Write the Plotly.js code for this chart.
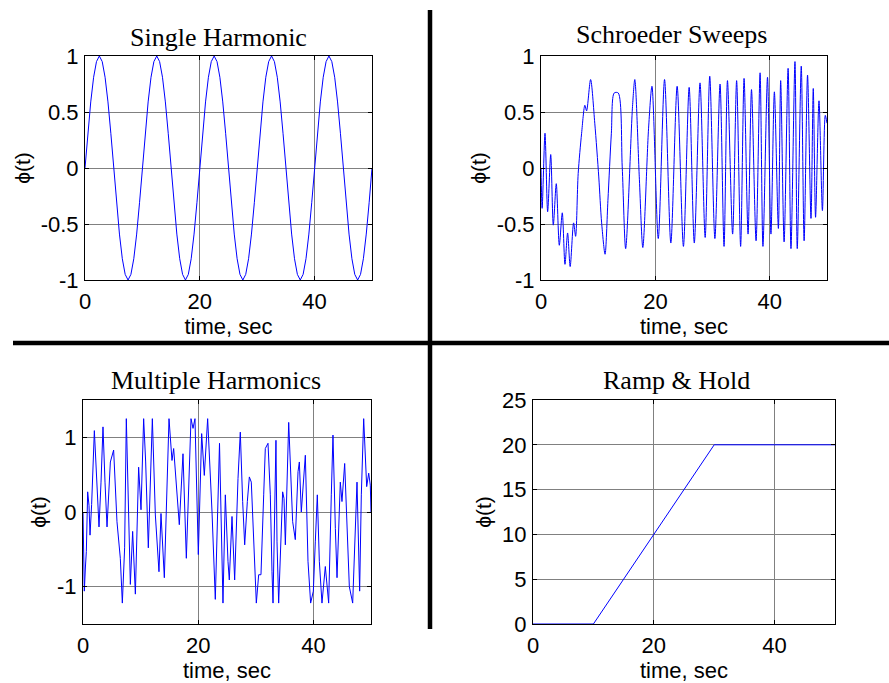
<!DOCTYPE html>
<html>
<head>
<meta charset="utf-8">
<script src="https://cdn.plot.ly/plotly-3.0.1.min.js"></script>
<style>html,body{margin:0;padding:0;background:#fff;} #chart{width:889px;height:683px;}</style>
</head>
<body>
<div id="chart"></div>
<script>
// ---------- data ----------
const panelTitles = ["Single Harmonic", "Schroeder Sweeps", "Multiple Harmonics", "Ramp & Hold"];
const xTitle = "time, sec";
const yTitle = "\u03D5(t)";

const xTickVals = [0, 20, 40];
const xTickText = ["0", "20", "40"];
const yTickValsUnit = [-1, -0.5, 0, 0.5, 1];
const yTickTextUnit = ["-1", "-0.5", "0", "0.5", "1"];
const yTickValsMulti = [-1, 0, 1];
const yTickTextMulti = ["-1", "0", "1"];
const yTickValsRamp = [0, 5, 10, 15, 20, 25];
const yTickTextRamp = ["0", "5", "10", "15", "20", "25"];

// Single harmonic: samples every 0.5 s from t = 0 to 50
const sineStart = 0;
const sineStep = 0.5;
const sineValues = [
  0, 0.31, 0.59, 0.81, 0.95, 1, 0.95, 0.81, 0.59, 0.31, 0, -0.31, -0.59, -0.81, -0.95, -1, -0.95, -0.81, -0.59, -0.31,
  0, 0.31, 0.59, 0.81, 0.95, 1, 0.95, 0.81, 0.59, 0.31, 0, -0.31, -0.59, -0.81, -0.95, -1, -0.95, -0.81, -0.59, -0.31,
  0, 0.31, 0.59, 0.81, 0.95, 1, 0.95, 0.81, 0.59, 0.31, 0, -0.31, -0.59, -0.81, -0.95, -1, -0.95, -0.81, -0.59, -0.31,
  0, 0.31, 0.59, 0.81, 0.95, 1, 0.95, 0.81, 0.59, 0.31, 0, -0.31, -0.59, -0.81, -0.95, -1, -0.95, -0.81, -0.59, -0.31,
  0, 0.31, 0.59, 0.81, 0.95, 1, 0.95, 0.81, 0.59, 0.31, 0, -0.31, -0.59, -0.81, -0.95, -1, -0.95, -0.81, -0.59, -0.31,
  0
];

// Schroeder sweeps
const schroederT = [
  0, 0.2, 0.7, 1.16, 1.7, 2.15, 2.67, 3.2, 3.72, 4.19, 4.65, 5.1, 5.7, 6.05, 6.5, 7.1, 7.67, 7.97, 8.67,
  9.4, 10.1, 10.6, 11.2, 11.7, 12.3, 12.8, 13.5, 14.2, 14.8, 16.0, 16.4, 17.2, 17.8, 18.8, 19.4, 20.5,
  21.6, 22.7, 23.8, 24.9, 25.9, 26.8, 27.8, 28.7, 29.5, 30.4, 31.3, 32.0, 32.6, 33.5, 34.2, 34.9, 35.5,
  36.2, 36.8, 37.6, 38.3, 38.8, 39.6, 40.2, 40.8, 41.5, 41.9, 42.5, 43.2, 43.7, 44.4, 44.8, 45.5, 46.0,
  46.6, 47.2, 47.6, 48.0, 48.6, 49.2, 49.7, 50
];
const schroederV = [
  0, -0.36, 0.31, -0.39, 0.12, -0.51, -0.14, -0.69, -0.4, -0.86, -0.58, -0.88, -0.49, -0.61, -0.05, 0.31, 0.56, 0.51, 0.79,
  0.4, -0.08, -0.49, -0.77, -0.29, 0.31, 0.67, 0.67, 0.01, -0.72, 0.55, 0.79, -0.1, -0.71, 0.35, 0.73, -0.63,
  0.79, -0.67, 0.73, -0.7, 0.72, -0.67, 0.76, -0.62, 0.82, -0.63, 0.75, -0.7, 0.78, -0.59, 0.78, -0.7, 0.8,
  -0.59, 0.7, -0.65, 0.85, -0.7, 0.81, -0.59, 0.68, -0.54, 0.78, -0.66, 0.89, -0.72, 0.95, -0.72, 0.91, -0.65,
  0.83, -0.45, 0.71, -0.44, 0.6, -0.38, 0.47, 0.4
];

// Multiple harmonics
const multiT = [
  0, 0.23, 0.41, 0.58, 0.81, 1.04, 1.22, 1.5, 1.97, 2.2, 2.78, 3.13, 3.47, 3.82, 4.17, 4.75, 5.32, 5.9, 6.48,
  6.83, 7.23, 7.52, 7.87, 8.22, 8.62, 9.09, 9.66, 10.07, 10.53, 10.88, 11.34, 12.04, 12.56, 13.19, 13.54,
  14.12, 14.93, 15.45, 15.74, 16.72, 17.36, 17.94, 18.75, 19.1, 19.44, 20.02, 20.6, 21.06, 21.64, 22.4,
  22.97, 23.7, 24.3, 24.71, 25.17, 25.4, 25.87, 26.33, 26.91, 27.31, 27.72, 28.07, 28.53, 28.88, 29.22,
  29.63, 30.09, 30.5, 30.9, 31.37, 31.65, 32.12, 32.52, 32.81, 32.99, 33.5, 33.68, 33.97, 34.66, 34.9,
  35.13, 35.71, 36.05, 36.4, 36.86, 37.33, 37.56, 37.9, 38.6, 39.06, 39.52, 39.99, 40.33, 40.68, 41.03,
  41.49, 42.07, 42.36, 42.65, 43.11, 43.4, 43.81, 44.1, 44.67, 44.96, 45.43, 45.83, 46.24, 46.82, 47.57,
  48.03, 48.32, 48.73, 49.01, 49.25, 49.6, 49.88, 50
];
const multiV = [
  0, -1.06, -0.75, -0.53, 0.27, 0.09, -0.31, 0.1, 1.09, 0.74, -0.2, 0.4, 1.14, 0.4, -0.2, 0.67, 0.83, -0.13, -0.62,
  -1.22, -0.48, 1.25, -0.08, -0.97, -0.26, -1.1, 0.6, 0.03, 1.25, 0.67, -0.48, 1.25, -0.04, -0.8, -0.02,
  -0.88, 1.25, 0.69, 0.85, -0.17, 0.78, -0.62, 1.25, 1.12, 1.25, -0.57, 1.05, 0.49, 1.25, 0.0,
  -1.17, 0.92, -1.22, 0.23, -0.66, -0.91, -0.06, -0.91, 0.45, 1.07, 0.14, -0.44, 0.14, 0.47, 0.4,
  -0.35, -1.22, -0.84, -0.84, 0.23, 0.85, 0.92, 0.23, -0.8, -1.22, 0.96, -0.4, -1.22, 0.27, 0.18,
  -0.44, 1.2, 0.4, -0.13, -0.37, 0.54, 0.67, 0, 0.76, -0.66, -1.22, -1.06, -0.4, 0.23, -0.66,
  -1.22, -0.73, -0.93, -1.22, 0.23, 1.03, -0.22, -0.88, 0.4, 0.14, 0.65, -0.22, -1.0, -1.22, 0.4,
  -1.06, 0.23, 1.25, 0.76, 0.34, 0.52, 0.36, 0
];

// Ramp & hold
const rampT = [0, 10, 30, 50];
const rampV = [0, 0, 20, 20];

// ---------- chart ----------
const lineStyle = {color: "#0000ff", width: 1};
const smoothLine = {color: "#0000ff", width: 1, shape: "spline", smoothing: 0.8};
const traces = [
  {type: "scatter", mode: "lines", x0: sineStart, dx: sineStep, y: sineValues, line: lineStyle, xaxis: "x", yaxis: "y", hoverinfo: "skip"},
  {type: "scatter", mode: "lines", x: schroederT, y: schroederV, line: smoothLine, xaxis: "x2", yaxis: "y2", hoverinfo: "skip"},
  {type: "scatter", mode: "lines", x: multiT, y: multiV, line: lineStyle, xaxis: "x3", yaxis: "y3", hoverinfo: "skip"},
  {type: "scatter", mode: "lines", x: rampT, y: rampV, line: lineStyle, xaxis: "x4", yaxis: "y4", hoverinfo: "skip"}
];

const W = 889, H = 683;
const tickFont = {family: "Liberation Sans, Arial, sans-serif", size: 22, color: "#000"};
const yTitleFont = {family: "Liberation Sans, DejaVu Sans, sans-serif", size: 21, color: "#000"};
function px(a, b) { return [a / W, b / W]; }
function py(top, bottom) { return [1 - bottom / H, 1 - top / H]; }

function xAxis(domain, anchor) {
  return {
    domain: domain, anchor: anchor, range: [0, 50],
    tickvals: xTickVals, ticktext: xTickText,
    showline: true, linecolor: "#000", linewidth: 1, mirror: "ticks",
    ticks: "inside", ticklen: 4, tickcolor: "#000",
    showgrid: true, gridcolor: "#808080", gridwidth: 1,
    zeroline: false, tickfont: tickFont, ticklabelstandoff: 2,
    title: {text: xTitle, font: tickFont, standoff: 1},
    automargin: false
  };
}
function yAxis(domain, anchor, range, vals, text) {
  return {
    domain: domain, anchor: anchor, range: range,
    tickvals: vals, ticktext: text,
    showline: true, linecolor: "#000", linewidth: 1, mirror: "ticks",
    ticks: "inside", ticklen: 4, tickcolor: "#000",
    showgrid: true, gridcolor: "#808080", gridwidth: 1,
    zeroline: false, tickfont: tickFont, ticklabelstandoff: 1,
    title: {text: yTitle, font: yTitleFont, standoff: 4},
    automargin: false
  };
}

const titleFont = {family: "Liberation Serif, Times New Roman, serif", size: 26, color: "#000"};
function ann(text, cx, cy) {
  return {text: text, xref: "paper", yref: "paper", x: cx / W, y: 1 - cy / H,
          xanchor: "center", yanchor: "middle", showarrow: false, font: titleFont};
}

const layout = {
  width: W, height: H,
  margin: {l: 0, r: 0, t: 0, b: 0},
  paper_bgcolor: "#fff", plot_bgcolor: "#fff",
  showlegend: false,
  xaxis:  xAxis(px(85, 372), "y"),
  yaxis:  yAxis(py(56, 280), "x", [-1, 1], yTickValsUnit, yTickTextUnit),
  xaxis2: xAxis(px(541, 827), "y2"),
  yaxis2: yAxis(py(56, 280), "x2", [-1, 1], yTickValsUnit, yTickTextUnit),
  xaxis3: xAxis(px(83, 371), "y3"),
  yaxis3: yAxis(py(400, 624), "x3", [-1.5, 1.5], yTickValsMulti, yTickTextMulti),
  xaxis4: xAxis(px(533, 835), "y4"),
  yaxis4: yAxis(py(400, 624), "x4", [0, 25], yTickValsRamp, yTickTextRamp),
  annotations: [
    ann(panelTitles[0], 218, 37),
    ann(panelTitles[1], 671, 35),
    ann(panelTitles[2], 216, 380),
    ann(panelTitles[3], 676, 380)
  ],
  shapes: [
    {type: "line", xref: "paper", yref: "paper", x0: 430 / W, x1: 430 / W, y0: 1 - 10 / H, y1: 1 - 629 / H,
     line: {color: "#000", width: 4.5}},
    {type: "line", xref: "paper", yref: "paper", x0: 13 / W, x1: 1, y0: 1 - 343 / H, y1: 1 - 343 / H,
     line: {color: "#000", width: 4.5}}
  ]
};

Plotly.newPlot("chart", traces, layout, {staticPlot: true, displayModeBar: false});
</script>
</body>
</html>
